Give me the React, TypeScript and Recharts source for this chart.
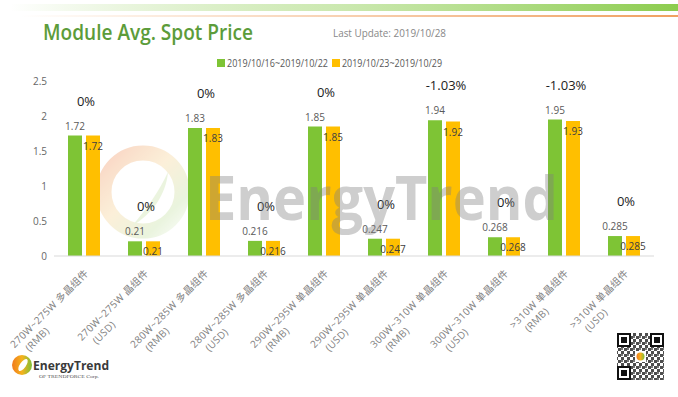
import { Bar, BarChart, XAxis, YAxis } from "recharts";

// categories: product line + currency
const products = [
  "270W~275W 多晶组件",
  "270W~275W 晶组件",
  "280W~285W 多晶组件",
  "280W~285W 多晶组件",
  "290W~295W 单晶组件",
  "290W~295W 单晶组件",
  "300W~310W 单晶组件",
  "300W~310W 单晶组件",
  ">310W 单晶组件",
  ">310W 单晶组件",
];
const currencies = ["(RMB)", "(USD)", "(RMB)", "(USD)", "(RMB)", "(USD)", "(RMB)", "(USD)", "(RMB)", "(USD)"];

const prevWeek = [1.72, 0.21, 1.83, 0.216, 1.85, 0.247, 1.94, 0.268, 1.95, 0.285];
const thisWeek = [1.72, 0.21, 1.83, 0.216, 1.85, 0.247, 1.92, 0.268, 1.93, 0.285];
const changes = ["0%", "0%", "0%", "0%", "0%", "0%", "-1.03%", "0%", "-1.03%", "0%"];

const seriesNames = ["2019/10/16~2019/10/22", "2019/10/23~2019/10/29"];
const yTicks = [0, 0.5, 1, 1.5, 2, 2.5];

const GREEN = "#7ec435";
const ORANGE = "#ffbf00";
const FONT = "'Open Sans', 'Noto Sans CJK SC', sans-serif";
const TICK_SPACING = 0.3;

const data = products.map((p, i) => ({
  name: p,
  prev: prevWeek[i],
  curr: thisWeek[i],
}));

let ctx: CanvasRenderingContext2D | null = null;
function measure(s: string, font: string) {
  if (!ctx) ctx = document.createElement("canvas").getContext("2d");
  if (!ctx) return s.length * 6;
  ctx.font = font;
  return ctx.measureText(s).width;
}

function ProductTick(props: any) {
  const { x, y, payload } = props;
  const i = payload.index;
  const line1 = payload.value as string;
  const w = measure(line1, `10px ${FONT}`) + line1.length * TICK_SPACING;
  return (
    <g transform={`translate(${x + 5},${y + 18}) rotate(-45)`}>
      <text x={0} y={0} textAnchor="end" fontSize={10} fill="#808080" fontFamily={FONT} letterSpacing={TICK_SPACING}>
        {line1}
      </text>
      <text x={-w + 8} y={13} textAnchor="start" fontSize={10} fill="#808080" fontFamily={FONT} letterSpacing={TICK_SPACING}>
        {currencies[i]}
      </text>
    </g>
  );
}

function PrevLabel(props: any) {
  const { x, y, width, value, index } = props;
  const cx = x + width / 2;
  return (
    <g>
      <text x={cx} y={y - 6} textAnchor="middle" fontSize={10} fill="#595959" fontFamily={FONT}>
        {value}
      </text>
      <text x={x + width + 4} y={y - 30} textAnchor="middle" fontSize={13} fill="#222" fontFamily={FONT}>
        {changes[index]}
      </text>
    </g>
  );
}

function CurrLabel(props: any) {
  const { x, y, width, value } = props;
  return (
    <text x={x + width / 2} y={y + 14} textAnchor="middle" fontSize={10} fill="#404040" fontFamily={FONT}>
      {value}
    </text>
  );
}

export default function App() {
  return (
    <div
      style={{
        position: "absolute",
        top: 0,
        left: 0,
        width: 678,
        height: 397,
        background: "#fff",
        overflow: "hidden",
        fontFamily: FONT,
      }}
    >
      {/* header + watermark layer behind bars */}
      <svg width={678} height={397} style={{ position: "absolute", top: 0, left: 0 }}>
        <defs>
          <linearGradient id="topGreen" x1="0" x2="1" y1="0" y2="0">
            <stop offset="0" stopColor="#8ccc4e" stopOpacity={0} />
            <stop offset="0.5" stopColor="#a8d97a" stopOpacity={0.6} />
            <stop offset="1" stopColor="#8ccc4e" stopOpacity={1} />
          </linearGradient>
          <linearGradient id="topOrange" x1="0" x2="1" y1="0" y2="0">
            <stop offset="0" stopColor="#f0a060" stopOpacity={0} />
            <stop offset="1" stopColor="#f0a060" stopOpacity={1} />
          </linearGradient>
          <linearGradient id="ring" x1="0" x2="1" y1="0" y2="1">
            <stop offset="0" stopColor="#f08a5a" stopOpacity={0.9} />
            <stop offset="0.45" stopColor="#f5c97a" stopOpacity={0.7} />
            <stop offset="0.8" stopColor="#b5d98a" stopOpacity={0.7} />
            <stop offset="1" stopColor="#b5d98a" stopOpacity={0.2} />
          </linearGradient>
          <linearGradient id="logo" x1="0" x2="1" y1="0" y2="0">
            <stop offset="0" stopColor="#f07a1e" />
            <stop offset="0.5" stopColor="#f5b21c" />
            <stop offset="1" stopColor="#7cbf3a" />
          </linearGradient>
          <pattern id="qr" width={6} height={6} patternUnits="userSpaceOnUse">
            <rect x={0} y={0} width={3} height={3} fill="#222" />
            <rect x={3} y={3} width={3} height={3} fill="#222" />
            <rect x={3} y={0} width={2} height={2} fill="#555" />
          </pattern>
        </defs>
        <rect x={10} y={4} width={668} height={7} fill="url(#topGreen)" />
        <rect x={20} y={15} width={658} height={2} fill="url(#topOrange)" />

        <text x={43} y={40} fontSize={22} fontWeight={600} fill="#5c9c3a" fontFamily={FONT} textLength={210} lengthAdjust="spacingAndGlyphs">
          Module Avg. Spot Price
        </text>
        <text x={333} y={37} fontSize={11} fill="#888" fontFamily={FONT} textLength={113} lengthAdjust="spacingAndGlyphs">
          Last Update: 2019/10/28
        </text>

        <rect x={217} y={59} width={8} height={8} fill={GREEN} />
        <text x={227} y={67} fontSize={10} fill="#595959" fontFamily={FONT} textLength={101} lengthAdjust="spacingAndGlyphs">
          {seriesNames[0]}
        </text>
        <rect x={332} y={59} width={8} height={8} fill={ORANGE} />
        <text x={342} y={67} fontSize={10} fill="#595959" fontFamily={FONT} textLength={100} lengthAdjust="spacingAndGlyphs">
          {seriesNames[1]}
        </text>

        {/* faded watermark logo ring */}
        <g opacity={0.4}>
          <circle cx={143} cy={192} r={39} fill="none" stroke="url(#ring)" strokeWidth={15} />
          <path d="M 132 226 C 146 210, 160 190, 168 172 C 166 195, 152 214, 132 226 Z" fill="#cfe6b0" />
        </g>

        {/* bottom-left logo */}
        <circle cx={22} cy={365} r={10} fill="url(#logo)" />
        <ellipse cx={23} cy={365} rx={3} ry={7} fill="#fff" transform="rotate(35 23 365)" />
        <text x={33} y={370} fontSize={13} fontWeight={700} fill="#3a3a3a" fontFamily={FONT} textLength={76} lengthAdjust="spacingAndGlyphs">
          EnergyTrend
        </text>
        <text x={39} y={378} fontSize={5} fill="#555" fontFamily="'Liberation Serif', serif" textLength={60} lengthAdjust="spacingAndGlyphs">
          OF TRENDFORCE Corp.
        </text>

        {/* QR-like mark */}
        <rect x={617} y={333} width={47} height={47} fill="url(#qr)" opacity={0.8} />
        {[
          [617, 333],
          [650, 333],
          [617, 366],
        ].map(([fx, fy]) => (
          <g key={`${fx}-${fy}`}>
            <rect x={fx} y={fy} width={14} height={14} fill="#fff" />
            <rect x={fx + 1} y={fy + 1} width={12} height={12} fill="none" stroke="#111" strokeWidth={2} />
            <rect x={fx + 4} y={fy + 4} width={6} height={6} fill="#111" />
          </g>
        ))}
        <rect x={635} y={351} width={11} height={11} fill="#fff" />
        <circle cx={640.5} cy={356.5} r={4} fill="url(#logo)" />
      </svg>

      <BarChart
        width={678}
        height={397}
        data={data}
        margin={{ top: 81, right: 24, bottom: 41, left: 14 }}
        barSize={14}
        barGap={4}
        style={{ position: "absolute", top: 0, left: 0 }}
      >
        <XAxis
          dataKey="name"
          interval={0}
          height={100}
          tickLine={false}
          tickSize={0}
          tickMargin={0}
          axisLine={{ stroke: "#d9d9d9" }}
          tick={<ProductTick />}
        />
        <YAxis
          type="number"
          domain={[0, 2.5]}
          ticks={yTicks}
          width={40}
          axisLine={false}
          tickLine={false}
          tickSize={0}
          tickMargin={7}
          tick={{ fontSize: 10, fill: "#666", fontFamily: FONT }}
        />
        <Bar dataKey="prev" name={seriesNames[0]} fill={GREEN} isAnimationActive={false} label={<PrevLabel />} />
        <Bar dataKey="curr" name={seriesNames[1]} fill={ORANGE} isAnimationActive={false} label={<CurrLabel />} />
      </BarChart>

      {/* big watermark text, drawn over the bars */}
      <svg width={678} height={397} style={{ position: "absolute", top: 0, left: 0, pointerEvents: "none" }}>
        <text
          x={205}
          y={220}
          fontSize={60}
          fontWeight={700}
          fill="#808080"
          opacity={0.38}
          fontFamily={FONT}
          textLength={353}
          lengthAdjust="spacingAndGlyphs"
        >
          EnergyTrend
        </text>
      </svg>
    </div>
  );
}
